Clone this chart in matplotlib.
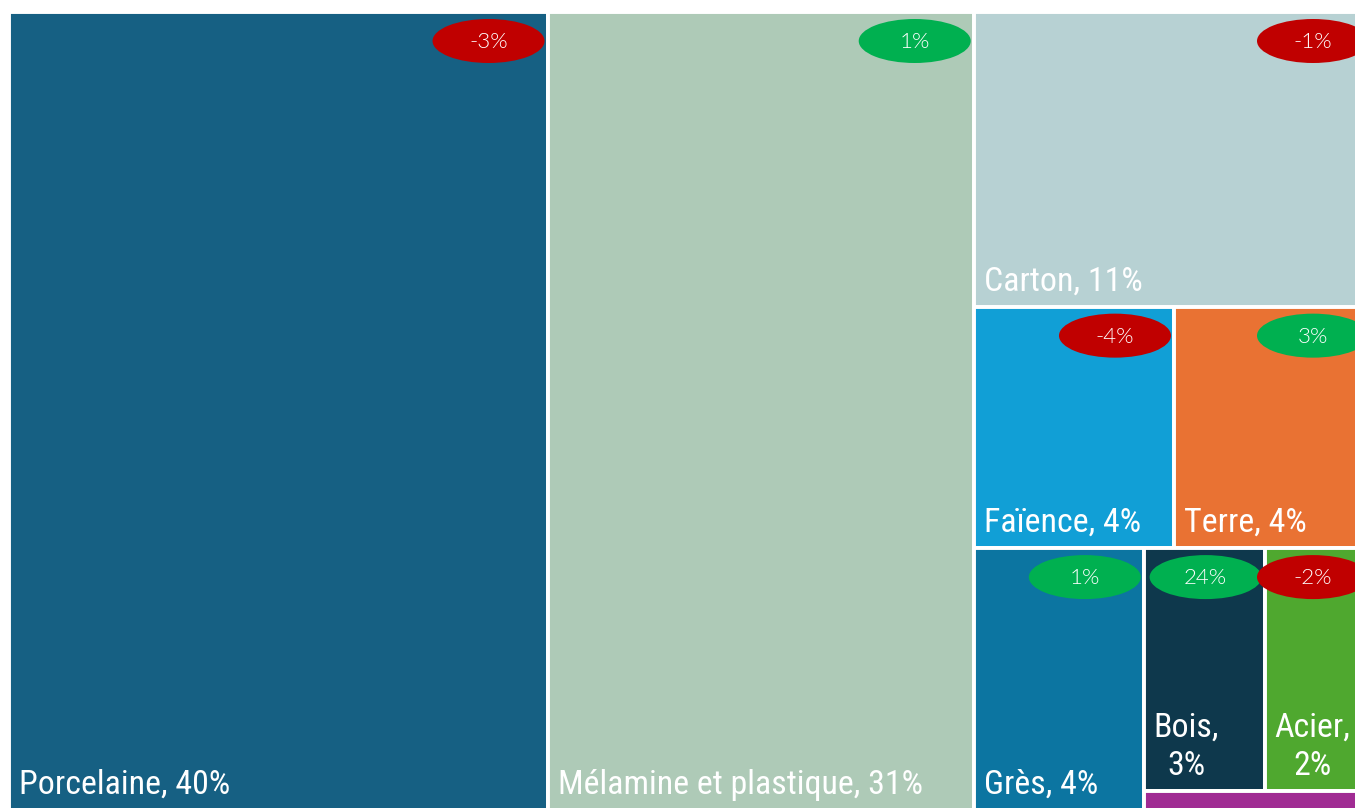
import matplotlib
matplotlib.use("Agg")
import matplotlib.pyplot as plt
from matplotlib import font_manager
from matplotlib.patches import Rectangle, Ellipse

# Treemap data (share of total, %)
names = ["Porcelaine", "Mélamine et plastique", "Carton", "Faïence", "Terre",
         "Grès", "Bois", "Acier", "Autres"]
shares = [39.55, 31.3, 10.8, 4.45, 4.4, 4.1, 2.7, 2.4, 0.4]
changes = ["-3%", "1%", "-1%", "-4%", "3%", "1%", "24%", "-2%", None]
colors = ["#166083", "#AECAB7", "#B7D1D3", "#119FD6", "#E97233",
          "#0C75A1", "#0E384C", "#4FA82F", "#A02B93"]

# nesting of the tiles: 'h' = side by side, 'v' = stacked
layout = ("h", [0, 1, ("v", [2, ("h", [3, 4]),
                             ("h", [5, ("v", [("h", [6, 7]), 8])])])])


def weight(node):
    if isinstance(node, int):
        return shares[node]
    return sum(weight(c) for c in node[1])


def place(node, x, y, w, h, out):
    """ Slice the rectangle (x, y, w, h) following the layout tree """
    if isinstance(node, int):
        out[node] = (x, y, w, h)
        return
    direction, children = node
    total = weight(node)
    pos = 0.0
    for child in children:
        frac = weight(child) / total
        if direction == "h":
            place(child, x + pos * w, y, frac * w, h, out)
        else:
            place(child, x, y + pos * h, w, frac * h, out)
        pos += frac


def first_font(candidates):
    for c in candidates:
        try:
            font_manager.findfont(c, fallback_to_default=False)
            return c
        except ValueError:
            pass
    return "DejaVu Sans"


fig = plt.figure(figsize=(13.55, 8.08), dpi=100)
ax = fig.add_axes([0, 0, 1, 1])
ax.set_xlim(0, 1355)
ax.set_ylim(808, 0)
ax.axis("off")

label_family = first_font(["Liberation Sans Narrow", "DejaVu Sans Condensed",
                           "Roboto Condensed", "Roboto", "Liberation Sans"])

# scale the label size so that "Porcelaine, 40%" is about 211 px wide
renderer = fig.canvas.get_renderer()
probe = ax.text(0, 0, "Porcelaine, 40%", family=label_family, size=20)
probe_w = probe.get_window_extent(renderer).width
probe.remove()
label_size = 20 * 211 / probe_w

rects = {}
place(layout, 9, 12, 1363, 798, rects)

label_font = dict(family=[label_family, "DejaVu Sans"], size=label_size,
                  color="white")
badge_font = dict(family=["Lato", "DejaVu Sans"], weight=300, size=16,
                  color="white")

# Tiles and labels
for i, name in enumerate(names):
    x, y, w, h = rects[i]
    ax.add_patch(Rectangle((x, y), w, h, facecolor=colors[i],
                           edgecolor="white", linewidth=2.8))
    if h < 40:
        continue
    pct = "{:.0f}%".format(shares[i])
    if w < 150:
        ax.text(x + 10, y + h - 16, "{},\n{}".format(name, pct),
                ha="left", va="baseline", multialignment="center",
                linespacing=1.25, **label_font)
    else:
        ax.text(x + 10, y + h - 16, "{}, {}".format(name, pct),
                ha="left", va="baseline", **label_font)

# Change badges on the top right corner of each tile
for i, change in enumerate(changes):
    if change is None:
        continue
    x, y, w, h = rects[i]
    badge_color = "#C00000" if change.startswith("-") else "#00B050"
    cx, cy = x + w - 59, y + 29
    ax.add_patch(Ellipse((cx, cy), 112, 44, facecolor=badge_color,
                         edgecolor="none"))
    ax.text(cx, cy + 1, change, ha="center", va="center", **badge_font)

fig.savefig("out.png", dpi=100)
